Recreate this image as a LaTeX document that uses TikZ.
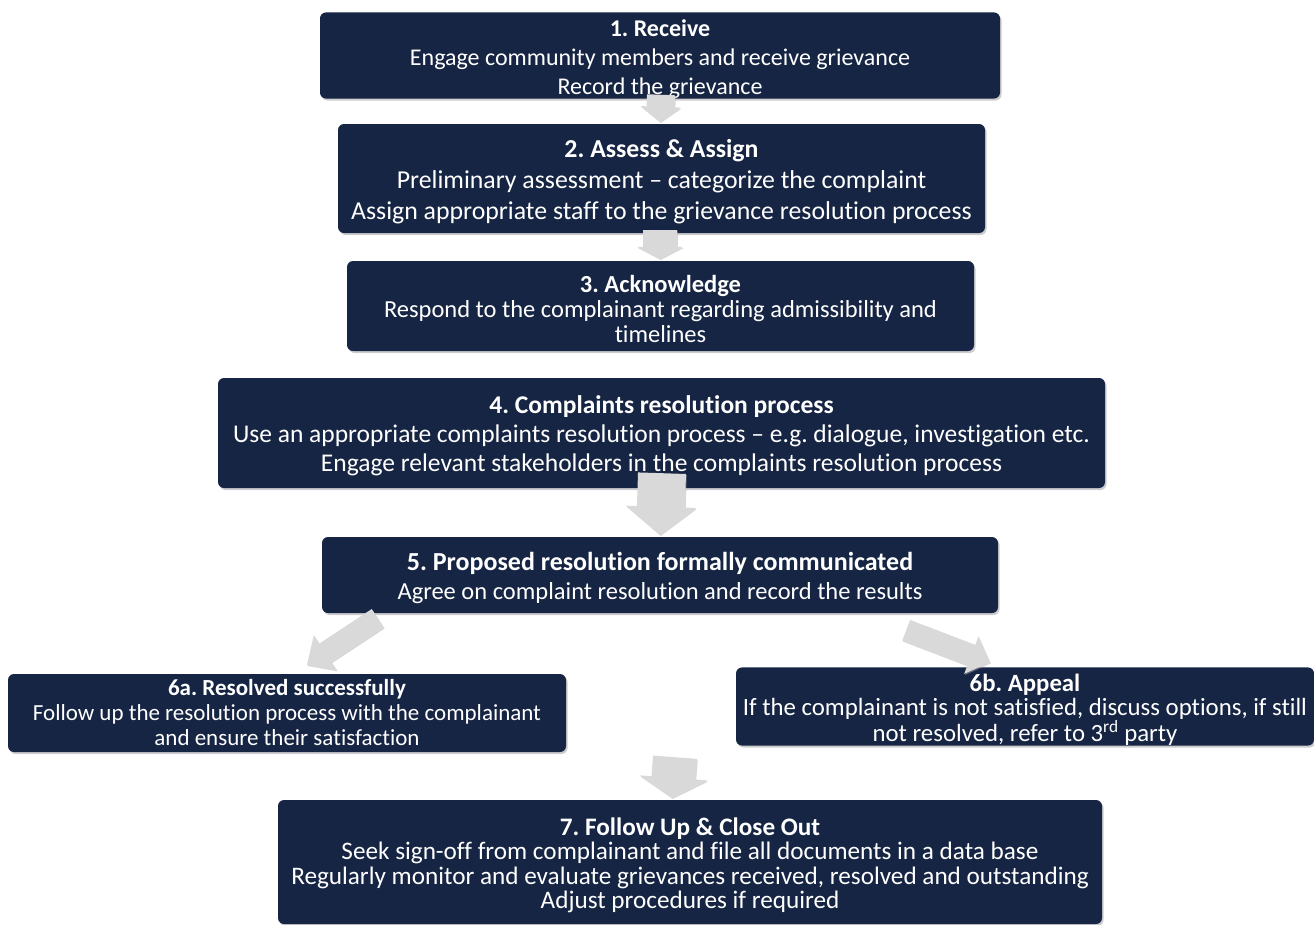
\documentclass[tikz,border=0pt]{standalone}
\usepackage{fontspec}
\setmainfont{Carlito}[Ligatures={NoCommon}]
\usetikzlibrary{calc,shadows}
\definecolor{boxnavy}{RGB}{22,37,67}
\definecolor{arrowgray}{RGB}{217,217,217}
\definecolor{shadowgray}{RGB}{170,170,175}

% strut that pushes the first line of a box a little lower
\newcommand{\firstgap}{\rule{0pt}{24pt}}

\tikzset{
  stepbox/.style={fill=boxnavy, text=white, rounded corners=6pt, inner sep=0pt,
    align=center, draw=none,
    drop shadow={shadow xshift=1.5pt, shadow yshift=-2pt, fill=shadowgray, opacity=0.6},
    font=\fontsize{24.5}{29}\selectfont},
  flowarrow/.style={fill=arrowgray,
    drop shadow={shadow xshift=0.8pt, shadow yshift=-1.2pt, fill=gray!60, opacity=0.5}}
}

% block arrow from #1 to #2: shaft half width #3, head half width #4, head length #5
\newcommand{\blockarrow}[5]{%
  \coordinate (ba-h) at ($(#2)!#5pt!(#1)$);
  \path[flowarrow]
    ($(#1)!#3pt!90:(#2)$) -- ($(ba-h)!#3pt!-90:(#1)$) -- ($(ba-h)!#4pt!-90:(#1)$)
    -- (#2) -- ($(ba-h)!#4pt!90:(#1)$) -- ($(ba-h)!#3pt!90:(#1)$)
    -- ($(#1)!#3pt!-90:(#2)$) -- cycle;
}

\begin{document}
\frenchspacing
\begin{tikzpicture}[x=1pt,y=-1pt]
\useasboundingbox (0,0) rectangle (1314,924);

\node[stepbox, minimum width=680pt, minimum height=83pt,
  font=\fontsize{24}{29}\selectfont] (b1) at (660,55.5)
  {\firstgap\textbf{1. Receive}\\Engage community members and receive grievance\\Record the grievance};
\node[stepbox, minimum width=647pt, minimum height=109pt,
  font=\fontsize{25.8}{31}\selectfont] (b2) at (661.5,178.5)
  {\firstgap\textbf{2. Assess \& Assign}\\Preliminary assessment -- categorize the complaint\\Assign appropriate staff to the grievance resolution process};
\node[stepbox, minimum width=627pt, minimum height=90pt,
  font=\fontsize{24.5}{25}\selectfont] (b3) at (660.5,306)
  {\firstgap\textbf{3. Acknowledge}\\Respond to the complainant regarding admissibility and\\timelines};
\node[stepbox, minimum width=887pt, minimum height=110pt,
  font=\fontsize{25.5}{29}\selectfont] (b4) at (661.5,433)
  {\firstgap\textbf{4. Complaints resolution process}\\Use an appropriate complaints resolution process -- e.g. dialogue, investigation etc.\\Engage relevant stakeholders in the complaints resolution process};
\node[stepbox, minimum width=676pt, minimum height=76pt] (b5) at (660,575)
  {\firstgap{\fontsize{26}{29}\selectfont\textbf{5. Proposed resolution formally communicated}}\\Agree on complaint resolution and record the results};
\node[stepbox, minimum width=558pt, minimum height=78pt,
  font=\fontsize{23}{25}\selectfont] (b6a) at (287,713)
  {\textbf{6a. Resolved successfully}\\Follow up the resolution process with the complainant\\and ensure their satisfaction};
\node[stepbox, minimum width=578pt, minimum height=77pt,
  font=\fontsize{24.8}{24}\selectfont] (b6b) at (1025,706.5)
  {\firstgap\textbf{6b. Appeal}\\If the complainant is not satisfied, discuss options, if still\\not resolved, refer to 3\textsuperscript{rd} party};
\node[stepbox, minimum width=824pt, minimum height=124pt,
  font=\fontsize{25.2}{24.5}\selectfont] (b7) at (690,862)
  {\firstgap\textbf{7. Follow Up \& Close Out}\\Seek sign-off from complainant and file all documents in a data base\\Regularly monitor and evaluate grievances received, resolved and outstanding\\Adjust procedures if required};

% arrow end points
\coordinate (a12s) at ($(b1.south)+(1,-4)$);
\coordinate (a12e) at ($(b2.north)+(-1.5,-2)$);
\coordinate (a23s) at ($(b2.south)+(-1.5,-3)$);
\coordinate (a23e) at ($(b3.north)+(-0.5,-2)$);
\coordinate (a45s) at ($(b4.south)+(0.5,-15)$);
\coordinate (a45e) at ($(b5.north)+(0,-2)$);
\coordinate (a56as) at ($(b5.south west)+(56,5)$);
\coordinate (a56ae) at ($(b6a.north)+(20,-9)$);
\coordinate (a56bs) at ($(b5.south east)+(-92,17)$);
\coordinate (a56be) at ($(b6b.north)+(-35,-5)$);
\coordinate (a67s) at ($(b5.south)+(15,144)$);
\coordinate (a67e) at ($(b7.north)+(-18,-2)$);

\blockarrow{a12s}{a12e}{14}{20}{15}
\blockarrow{a23s}{a23e}{17}{23}{12}
\blockarrow{a45s}{a45e}{24}{35}{28}
\blockarrow{a56as}{a56ae}{11}{21}{22}
\blockarrow{a56bs}{a56be}{11}{20}{20}
\blockarrow{a67s}{a67e}{22}{34}{20}
\end{tikzpicture}
\end{document}
